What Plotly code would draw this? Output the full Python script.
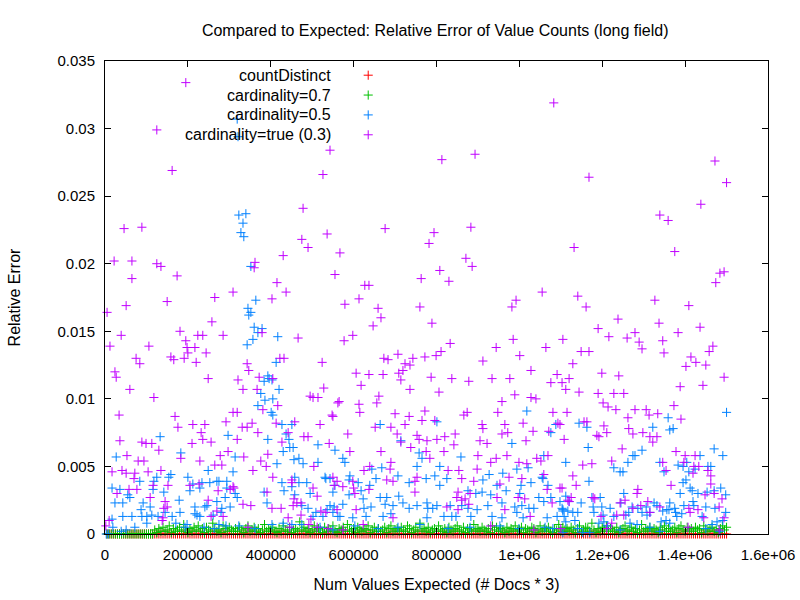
import plotly.graph_objects as go

# ---------------- data ----------------
x_tick_vals = [0, 200000, 400000, 600000, 800000, 1000000, 1200000, 1400000, 1600000]
x_tick_text = ["0", "200000", "400000", "600000", "800000", "1e+06", "1.2e+06", "1.4e+06", "1.6e+06"]
y_tick_vals = [0, 0.005, 0.01, 0.015, 0.02, 0.025, 0.03, 0.035]
y_tick_text = ["0", "0.005", "0.01", "0.015", "0.02", "0.025", "0.03", "0.035"]

series_names = ["countDistinct", "cardinality=0.7", "cardinality=0.5", "cardinality=true (0.3)"]
series_colors = ["#ff0000", "#00c000", "#0080ff", "#c000ff"]

# x grid of expected value counts (shared by countDistinct and cardinality=0.7)
x_expected = list(range(5000, 1500001, 5000))

# countDistinct: exact -> zero error everywhere
count_distinct_err = [0.0] * len(x_expected)

# cardinality=0.7 relative error (units of 1e-4), one per x_expected point
card07_err_e4 = [
    0, 0, 0, 0, 0, 0, 0, 0, 0, 0, 0, 0, 0, 0, 0, 0, 0, 0, 0, 0, 0, 0, 0,
    3, 1, 4, 2, 5, 2, 3, 6, 1, 4, 2, 3, 5, 2, 7, 3, 1, 4, 2, 5,
    3, 6, 2, 4, 1, 5, 3, 2, 8, 4, 2, 3, 1, 6, 4, 2, 5, 3, 2, 4,
    2, 5, 3, 1, 4, 6, 2, 3, 5, 2, 4, 1, 3, 7, 2, 4, 3, 5, 2, 1,
    4, 2, 6, 3, 2, 5, 1, 3, 4, 2, 9, 3, 5, 2, 4, 1, 3, 6, 2, 4,
    3, 1, 5, 2, 4, 3, 6, 2, 1, 4, 3, 5, 2, 7, 3, 2, 4, 1, 5, 3,
    2, 4, 3, 6, 1, 3, 5, 2, 4, 2, 3, 5, 1, 4, 6, 2, 3, 4, 2, 5,
    3, 2, 6, 4, 1, 3, 5, 2, 8, 3, 4, 2, 5, 1, 3, 4, 2, 6, 3, 2,
    4, 1, 5, 3, 2, 4, 6, 3, 2, 5, 1, 4, 3, 2, 7, 3, 4, 2, 5, 3,
    2, 4, 1, 6, 3, 5, 2, 4, 3, 1, 5, 2, 4, 3, 6, 2, 3, 5, 1, 4,
    3, 2, 5, 4, 1, 3, 6, 2, 4, 3, 5, 2, 1, 4, 3, 7, 2, 5, 3, 4,
    2, 5, 3, 1, 4, 6, 2, 3, 5, 4, 2, 8, 3, 1, 4, 2, 5, 3, 6, 2,
    4, 3, 2, 5, 1, 3, 4, 6, 2, 3, 5, 2, 4, 1, 3, 7, 2, 4, 3, 5,
    2, 4, 3, 1, 5, 3, 6, 2, 4, 2, 3, 5, 1, 4, 6, 3, 2, 5, 3, 4,
    2, 5, 3, 4, 1, 6, 3, 2, 4, 5, 2, 3, 1, 4, 6, 3, 5,
]
card07_err = [v * 1e-4 for v in card07_err_e4]

# cardinality=0.5: (expected count, relative error)
card05_points = [
    (319000, 0.0307), (321000, 0.0294), (323000, 0.0236), (340000, 0.0237), (333000, 0.0230),
    (328000, 0.0223), (335000, 0.0220), (352000, 0.0198), (364000, 0.0173), (345000, 0.0167),
    (352000, 0.0164), (347000, 0.0162), (360000, 0.0153), (379000, 0.0152), (369000, 0.0149),
    (357000, 0.0144), (343000, 0.0140), (417000, 0.0146), (413000, 0.0127), (393000, 0.0117),
    (384000, 0.0113), (396000, 0.0115), (420000, 0.0107), (403000, 0.0114), (376000, 0.0104),
    (386000, 0.0099), (405000, 0.0100), (369000, 0.0095), (401000, 0.0090), (405000, 0.0088),
    (427000, 0.0081), (451000, 0.0081), (437000, 0.0074), (297000, 0.0073), (393000, 0.0070),
    (133000, 0.0072), (444000, 0.0070), (514000, 0.0066), (446000, 0.0064), (454000, 0.0064),
    (430000, 0.0061), (555000, 0.0062), (183000, 0.0060), (27000, 0.0057), (314000, 0.0057),
    (468000, 0.0056), (456000, 0.0055), (415000, 0.0052), (514000, 0.0053), (478000, 0.0052),
    (249000, 0.0047), (309000, 0.0046), (125000, 0.0042), (154000, 0.0042), (159000, 0.0044),
    (200000, 0.0042), (458000, 0.0042), (531000, 0.0042), (543000, 0.0041), (84000, 0.0039),
    (118000, 0.0039), (234000, 0.0038), (253000, 0.0038), (270000, 0.0039), (275000, 0.0039),
    (294000, 0.0039), (212000, 0.0037), (229000, 0.0034), (427000, 0.0038), (468000, 0.0038),
    (487000, 0.0038), (533000, 0.0041), (555000, 0.0036), (17000, 0.0034), (36000, 0.0033),
    (116000, 0.0033), (142000, 0.0031), (205000, 0.0032), (294000, 0.0034), (314000, 0.0030),
    (384000, 0.0031), (432000, 0.0032), (451000, 0.0035), (495000, 0.0030), (55000, 0.0029),
    (60000, 0.0027), (290000, 0.0027), (319000, 0.0027), (458000, 0.0029), (24000, 0.0023),
    (43000, 0.0023), (92000, 0.0023), (109000, 0.0020), (179000, 0.0025), (217000, 0.0020),
    (241000, 0.0020), (246000, 0.0021), (270000, 0.0024), (282000, 0.0019), (302000, 0.0020),
    (391000, 0.0023), (475000, 0.0021), (490000, 0.0019), (543000, 0.0021), (87000, 0.0018),
    (145000, 0.0016), (181000, 0.0016), (217000, 0.0015), (261000, 0.0014), (280000, 0.0016),
    (509000, 0.0016), (536000, 0.0018), (550000, 0.0016), (43000, 0.0013), (65000, 0.0013),
    (89000, 0.0013), (101000, 0.0013), (113000, 0.0014), (128000, 0.0013), (162000, 0.0013),
    (222000, 0.0014), (229000, 0.0013), (502000, 0.0013), (526000, 0.0013), (562000, 0.0013),
    (17000, 0.0011), (101000, 0.0008), (171000, 0.0008), (198000, 0.0007), (275000, 0.0007),
    (292000, 0.0006), (323000, 0.0006), (403000, 0.0007), (430000, 0.0008), (451000, 0.0007),
    (475000, 0.0007), (19000, 0.0005), (72000, 0.0005), (39000, 0.0002), (51000, 0.0003),
    (193000, 0.0005), (239000, 0.0005), (263000, 0.0004), (362000, 0.0004), (519000, 0.0005),
    (550000, 0.0003), (3000, 0.0), (8000, 0.0),
    (1018000, 0.0091), (664000, 0.0081), (801000, 0.0083), (1076000, 0.0075), (1088000, 0.0081),
    (714000, 0.0069), (982000, 0.0067), (758000, 0.0060), (574000, 0.0056), (579000, 0.0053),
    (765000, 0.0056), (859000, 0.0057), (753000, 0.0050), (808000, 0.0050), (1059000, 0.0058),
    (1112000, 0.0053), (644000, 0.0048), (668000, 0.0049), (994000, 0.0048), (960000, 0.0045),
    (1021000, 0.0049), (1055000, 0.0042), (591000, 0.0043), (707000, 0.0043), (654000, 0.0041),
    (825000, 0.0041), (796000, 0.0043), (775000, 0.0041), (912000, 0.0040), (927000, 0.0044),
    (611000, 0.0038), (589000, 0.0040), (734000, 0.0038), (808000, 0.0036), (946000, 0.0036),
    (1004000, 0.0036), (1028000, 0.0038), (1057000, 0.0041), (1069000, 0.0036), (639000, 0.0036),
    (618000, 0.0032), (550000, 0.0031), (968000, 0.0032), (876000, 0.0032), (895000, 0.0030),
    (910000, 0.0031), (1001000, 0.0030), (1047000, 0.0027), (664000, 0.0027), (680000, 0.0027),
    (709000, 0.0028), (589000, 0.0029), (623000, 0.0026), (931000, 0.0029), (1076000, 0.0027),
    (1112000, 0.0028), (574000, 0.0022), (676000, 0.0022), (695000, 0.0021), (719000, 0.0023),
    (777000, 0.0023), (801000, 0.0021), (833000, 0.0021), (861000, 0.0021), (924000, 0.0021),
    (958000, 0.0023), (989000, 0.0020), (1006000, 0.0021), (1059000, 0.0024), (553000, 0.0020),
    (625000, 0.0019), (642000, 0.0020), (734000, 0.0019), (753000, 0.0021), (779000, 0.0019),
    (791000, 0.0019), (876000, 0.0019), (898000, 0.0018), (1023000, 0.0019), (1035000, 0.0019),
    (1103000, 0.0019), (567000, 0.0013), (598000, 0.0012), (630000, 0.0013), (671000, 0.0013),
    (690000, 0.0015), (777000, 0.0012), (818000, 0.0013), (837000, 0.0013), (847000, 0.0013),
    (883000, 0.0013), (934000, 0.0013), (958000, 0.0012), (994000, 0.0016), (1009000, 0.0012),
    (1067000, 0.0012), (1091000, 0.0013), (1108000, 0.0013), (1105000, 0.0018), (603000, 0.0006),
    (659000, 0.0004), (707000, 0.0005), (760000, 0.0007), (828000, 0.0004), (881000, 0.0005),
    (953000, 0.0006), (999000, 0.0004), (1062000, 0.0005), (1081000, 0.0004),
    (1500000, 0.0090), (1144000, 0.0082), (1163000, 0.0079), (1322000, 0.0079), (1359000, 0.0086),
    (1363000, 0.0077), (1371000, 0.0078), (1166000, 0.0064), (1274000, 0.0058), (1279000, 0.0058),
    (1296000, 0.0062), (1470000, 0.0063), (1491000, 0.0058), (1262000, 0.0053), (1339000, 0.0053),
    (1383000, 0.0051), (1404000, 0.0053), (1228000, 0.0049), (1243000, 0.0046), (1250000, 0.0046),
    (1349000, 0.0046), (1395000, 0.0050), (1436000, 0.0058), (1455000, 0.0050), (1462000, 0.0050),
    (1409000, 0.0046), (1424000, 0.0048), (1168000, 0.0039), (1402000, 0.0040), (1395000, 0.0038),
    (1388000, 0.0030), (1412000, 0.0034), (1417000, 0.0032), (1431000, 0.0030), (1453000, 0.0031),
    (1470000, 0.0032), (1486000, 0.0034), (1498000, 0.0029), (1252000, 0.0030), (1098000, 0.0024),
    (1120000, 0.0024), (1149000, 0.0023), (1175000, 0.0027), (1195000, 0.0027), (1199000, 0.0020),
    (1219000, 0.0019), (1245000, 0.0023), (1272000, 0.0020), (1286000, 0.0019), (1306000, 0.0020),
    (1325000, 0.0023), (1332000, 0.0021), (1363000, 0.0023), (1356000, 0.0018), (1375000, 0.0019),
    (1397000, 0.0021), (1419000, 0.0024), (1421000, 0.0021), (1450000, 0.0020), (1472000, 0.0019),
    (1498000, 0.0016), (1105000, 0.0017), (1117000, 0.0017), (1129000, 0.0016), (1141000, 0.0016),
    (1178000, 0.0020), (1180000, 0.0016), (1202000, 0.0014), (1228000, 0.0013), (1257000, 0.0014),
    (1264000, 0.0016), (1296000, 0.0016), (1308000, 0.0014), (1315000, 0.0016), (1346000, 0.0017),
    (1361000, 0.0018), (1377000, 0.0016), (1380000, 0.0013), (1392000, 0.0015), (1441000, 0.0013),
    (1477000, 0.0009), (1112000, 0.0009), (1134000, 0.0010), (1192000, 0.0008), (1204000, 0.0009),
    (1213000, 0.0006), (1267000, 0.0008), (1284000, 0.0007), (1315000, 0.0005), (1342000, 0.0009),
    (1354000, 0.0010), (1363000, 0.0008), (1465000, 0.0007), (1491000, 0.0010), (1105000, 0.0001),
    (1141000, 0.0004), (1153000, 0.0001), (1170000, 0.0001), (1243000, 0.0003), (1339000, 0.0002),
    (1450000, 0.0004), (1484000, 0.0002),
]

# cardinality=true (0.3): (expected count, relative error)
card03_points = [
    (195000, 0.0334), (125000, 0.0299), (162000, 0.0269), (543000, 0.0284), (526000, 0.0266),
    (478000, 0.0241), (46000, 0.0226), (89000, 0.0227), (536000, 0.0222), (475000, 0.0218),
    (490000, 0.0212), (1083000, 0.0319), (813000, 0.0277), (893000, 0.0281), (676000, 0.0226),
    (794000, 0.0223), (883000, 0.0227), (1168000, 0.0264), (1472000, 0.0276), (1500000, 0.0260),
    (1438000, 0.0244), (1339000, 0.0236), (1359000, 0.0232),
    (430000, 0.0206), (22000, 0.0202), (65000, 0.0202), (125000, 0.0200), (135000, 0.0198),
    (362000, 0.0201), (360000, 0.0197), (65000, 0.0189), (174000, 0.0191), (555000, 0.0192),
    (415000, 0.0186), (437000, 0.0179), (309000, 0.0179), (265000, 0.0175), (150000, 0.0172),
    (403000, 0.0174), (51000, 0.0169), (5000, 0.0164), (258000, 0.0157), (181000, 0.0150),
    (39000, 0.0147), (224000, 0.0147), (236000, 0.0147), (285000, 0.0147), (379000, 0.0149),
    (466000, 0.0145), (12000, 0.0139), (106000, 0.0139), (195000, 0.0143), (198000, 0.0138),
    (217000, 0.0138), (200000, 0.0134), (244000, 0.0134), (75000, 0.0130), (159000, 0.0131),
    (166000, 0.0129), (191000, 0.0130), (84000, 0.0126), (220000, 0.0127), (343000, 0.0126),
    (422000, 0.0130), (432000, 0.0130), (524000, 0.0127), (24000, 0.0120), (27000, 0.0116),
    (347000, 0.0121), (249000, 0.0115), (321000, 0.0114), (372000, 0.0116), (405000, 0.0115),
    (333000, 0.0107), (367000, 0.0107), (60000, 0.0107), (528000, 0.0108),
    (782000, 0.0215), (567000, 0.0208), (871000, 0.0204), (886000, 0.0198), (808000, 0.0195),
    (763000, 0.0189), (830000, 0.0187), (627000, 0.0184), (637000, 0.0184), (1055000, 0.0179),
    (613000, 0.0174), (579000, 0.0170), (992000, 0.0173), (982000, 0.0168), (659000, 0.0167),
    (760000, 0.0168), (666000, 0.0160), (647000, 0.0154), (789000, 0.0156), (598000, 0.0147),
    (577000, 0.0143), (833000, 0.0141), (985000, 0.0144), (1105000, 0.0144), (944000, 0.0138),
    (1064000, 0.0138), (707000, 0.0133), (1001000, 0.0132), (673000, 0.0130), (683000, 0.0129),
    (743000, 0.0130), (772000, 0.0131), (799000, 0.0132), (811000, 0.0135), (912000, 0.0128),
    (724000, 0.0126), (736000, 0.0125), (719000, 0.0121), (606000, 0.0119), (637000, 0.0118),
    (671000, 0.0118), (709000, 0.0119), (1028000, 0.0121), (1091000, 0.0118), (787000, 0.0116),
    (837000, 0.0115), (934000, 0.0115), (977000, 0.0115), (714000, 0.0114), (878000, 0.0113),
    (1076000, 0.0112), (1103000, 0.0112), (1120000, 0.0115), (618000, 0.0110), (1112000, 0.0107),
    (1132000, 0.0212), (1375000, 0.0209), (1484000, 0.0193), (1494000, 0.0194), (1474000, 0.0186),
    (1141000, 0.0176), (1327000, 0.0173), (1161000, 0.0168), (1409000, 0.0169), (1238000, 0.0159),
    (1190000, 0.0152), (1337000, 0.0156), (1436000, 0.0153), (1216000, 0.0146), (1279000, 0.0149),
    (1260000, 0.0145), (1289000, 0.0142), (1383000, 0.0149), (1346000, 0.0143), (1296000, 0.0137),
    (1149000, 0.0135), (1168000, 0.0135), (1467000, 0.0139), (1458000, 0.0135), (1349000, 0.0134),
    (1414000, 0.0131), (1129000, 0.0126), (1426000, 0.0127), (1402000, 0.0124), (1450000, 0.0125),
    (1199000, 0.0119), (1240000, 0.0117), (1494000, 0.0116), (1443000, 0.0110), (1388000, 0.0109),
    (118000, 0.0101), (495000, 0.0102), (514000, 0.0101), (502000, 0.0101), (562000, 0.0097),
    (34000, 0.0088), (169000, 0.0087), (309000, 0.0090), (319000, 0.0090), (381000, 0.0092),
    (417000, 0.0095), (548000, 0.0088), (176000, 0.0079), (212000, 0.0081), (241000, 0.0081),
    (292000, 0.0083), (232000, 0.0075), (331000, 0.0079), (343000, 0.0079), (355000, 0.0082),
    (413000, 0.0082), (458000, 0.0083), (369000, 0.0075), (519000, 0.0081), (36000, 0.0069),
    (89000, 0.0068), (99000, 0.0067), (113000, 0.0067), (210000, 0.0067), (236000, 0.0070),
    (256000, 0.0068), (319000, 0.0070), (427000, 0.0068), (442000, 0.0075), (480000, 0.0072),
    (490000, 0.0072), (541000, 0.0067), (130000, 0.0062), (297000, 0.0061), (53000, 0.0058),
    (183000, 0.0056), (278000, 0.0058), (335000, 0.0057), (393000, 0.0059), (80000, 0.0054),
    (94000, 0.0054), (229000, 0.0054), (376000, 0.0054), (265000, 0.0051), (282000, 0.0051),
    (389000, 0.0050), (504000, 0.0050), (17000, 0.0046), (41000, 0.0047), (51000, 0.0045),
    (72000, 0.0045), (104000, 0.0046), (135000, 0.0047), (357000, 0.0047), (70000, 0.0041),
    (405000, 0.0042), (451000, 0.0040), (560000, 0.0039), (116000, 0.0036), (152000, 0.0036),
    (205000, 0.0036), (227000, 0.0037), (309000, 0.0035), (451000, 0.0038), (502000, 0.0034),
    (77000, 0.0033), (58000, 0.0033), (29000, 0.0030), (273000, 0.0032), (302000, 0.0033),
    (311000, 0.0034), (391000, 0.0031), (512000, 0.0028), (553000, 0.0036), (109000, 0.0027),
    (145000, 0.0024), (249000, 0.0025), (456000, 0.0026), (463000, 0.0023), (473000, 0.0023),
    (333000, 0.0022), (352000, 0.0021), (403000, 0.0019), (425000, 0.0019), (454000, 0.0021),
    (150000, 0.0020), (142000, 0.0019), (270000, 0.0017), (256000, 0.0013), (140000, 0.0012),
    (473000, 0.0014), (521000, 0.0017), (10000, 0.0010), (138000, 0.0010), (285000, 0.0013),
    (442000, 0.0012), (497000, 0.0011), (533000, 0.0016), (2000, 0.0006), (345000, 0.0005),
    (446000, 0.0005), (492000, 0.0007), (512000, 0.0005), (538000, 0.0004),
    (806000, 0.0105), (736000, 0.0107), (661000, 0.0102), (565000, 0.0098), (613000, 0.0096),
    (656000, 0.0097), (989000, 0.0103), (1028000, 0.0101), (1040000, 0.0100), (958000, 0.0098),
    (615000, 0.0090), (550000, 0.0087), (700000, 0.0089), (734000, 0.0087), (772000, 0.0091),
    (866000, 0.0088), (874000, 0.0090), (948000, 0.0090), (1081000, 0.0090), (1115000, 0.0090),
    (724000, 0.0081), (765000, 0.0084), (796000, 0.0084), (652000, 0.0079), (690000, 0.0079),
    (910000, 0.0081), (912000, 0.0078), (965000, 0.0081), (1009000, 0.0082), (1033000, 0.0076),
    (1071000, 0.0076), (1093000, 0.0082), (1098000, 0.0081), (586000, 0.0074), (705000, 0.0074),
    (753000, 0.0073), (758000, 0.0070), (777000, 0.0069), (801000, 0.0070), (820000, 0.0072),
    (845000, 0.0074), (905000, 0.0069), (922000, 0.0067), (958000, 0.0074), (972000, 0.0075),
    (1016000, 0.0069), (1108000, 0.0070), (714000, 0.0068), (738000, 0.0064), (591000, 0.0061),
    (666000, 0.0061), (775000, 0.0061), (818000, 0.0061), (842000, 0.0066), (970000, 0.0058),
    (784000, 0.0056), (690000, 0.0053), (900000, 0.0058), (931000, 0.0053), (944000, 0.0056),
    (999000, 0.0053), (1018000, 0.0052), (1042000, 0.0056), (1052000, 0.0054), (1069000, 0.0058),
    (625000, 0.0047), (639000, 0.0050), (688000, 0.0048), (828000, 0.0047), (854000, 0.0047),
    (898000, 0.0048), (975000, 0.0042), (1006000, 0.0041), (1059000, 0.0044), (680000, 0.0040),
    (695000, 0.0039), (748000, 0.0039), (753000, 0.0042), (861000, 0.0041), (890000, 0.0039),
    (953000, 0.0037), (550000, 0.0042), (598000, 0.0039), (574000, 0.0035), (600000, 0.0034),
    (637000, 0.0033), (603000, 0.0030), (1098000, 0.0034), (748000, 0.0031), (852000, 0.0031),
    (881000, 0.0030), (1067000, 0.0033), (849000, 0.0027), (861000, 0.0025), (869000, 0.0026),
    (878000, 0.0022), (946000, 0.0027), (997000, 0.0027), (1013000, 0.0026), (1079000, 0.0023),
    (1117000, 0.0025), (825000, 0.0020), (852000, 0.0018), (965000, 0.0018), (560000, 0.0018),
    (1026000, 0.0013), (606000, 0.0018), (695000, 0.0012), (623000, 0.0007), (931000, 0.0006),
    (1035000, 0.0003), (1100000, 0.0004), (574000, 0.0003),
    (1144000, 0.0105), (1190000, 0.0104), (1228000, 0.0104), (1252000, 0.0104), (1202000, 0.0097),
    (1214000, 0.0094), (1233000, 0.0092), (1279000, 0.0092), (1306000, 0.0092), (1313000, 0.0088),
    (1334000, 0.0089), (1373000, 0.0095), (1390000, 0.0085), (1156000, 0.0083), (1163000, 0.0083),
    (1262000, 0.0086), (1204000, 0.0080), (1211000, 0.0075), (1264000, 0.0078), (1298000, 0.0075),
    (1274000, 0.0074), (1187000, 0.0073), (1192000, 0.0072), (1315000, 0.0072), (1332000, 0.0072),
    (1322000, 0.0068), (1248000, 0.0063), (1378000, 0.0061), (1400000, 0.0058), (1424000, 0.0058),
    (1223000, 0.0054), (1175000, 0.0052), (1153000, 0.0051), (1346000, 0.0053), (1397000, 0.0053),
    (1421000, 0.0050), (1433000, 0.0050), (1354000, 0.0047), (1419000, 0.0045), (1455000, 0.0047),
    (1462000, 0.0043), (1129000, 0.0043), (1137000, 0.0036), (1103000, 0.0034), (1366000, 0.0036),
    (1462000, 0.0037), (1286000, 0.0033), (1284000, 0.0030), (1470000, 0.0030), (1125000, 0.0027),
    (1120000, 0.0024), (1178000, 0.0027), (1182000, 0.0026), (1255000, 0.0025), (1243000, 0.0023),
    (1489000, 0.0026), (1310000, 0.0024), (1448000, 0.0029), (1274000, 0.0019), (1293000, 0.0021),
    (1339000, 0.0020), (1409000, 0.0019), (1431000, 0.0018), (1482000, 0.0020), (1197000, 0.0013),
    (1235000, 0.0014), (1252000, 0.0014), (1315000, 0.0016), (1412000, 0.0016), (1445000, 0.0012),
    (1494000, 0.0012), (1223000, 0.0008), (1407000, 0.0005), (1482000, 0.0003), (1211000, 0.0004),
]

# ---------------- figure ----------------
FONT = "Liberation Sans"
MARKER_SIZE = 6.5
fig = go.Figure()

def add_series(xs, ys, color):
    fig.add_trace(go.Scatter(
        x=list(xs), y=list(ys), mode="markers", showlegend=False,
        cliponaxis=False,
        marker=dict(symbol="cross-thin", size=MARKER_SIZE, color=color,
                    line=dict(color=color, width=1)),
    ))

add_series(x_expected, count_distinct_err, series_colors[0])
add_series(x_expected, card07_err, series_colors[1])
add_series([p[0] for p in card05_points], [p[1] for p in card05_points], series_colors[2])
add_series([p[0] for p in card03_points], [p[1] for p in card03_points], series_colors[3])

# legend (gnuplot style: right-aligned text, sample on the right)
legend_y = [0.970, 0.928, 0.886, 0.844]
for name, color, ly in zip(series_names, series_colors, legend_y):
    fig.add_trace(go.Scatter(
        x=[0.397], y=[ly], xaxis="x2", yaxis="y2", mode="markers", showlegend=False,
        cliponaxis=False, hoverinfo="skip",
        marker=dict(symbol="cross-thin", size=MARKER_SIZE, color=color,
                    line=dict(color=color, width=1)),
    ))
    fig.add_annotation(x=0.344, y=ly, xref="paper", yref="paper", text=name,
                       showarrow=False, xanchor="right", yanchor="middle",
                       font=dict(family=FONT, size=16, color="black"))

axis_common = dict(showline=True, linecolor="black", linewidth=1, mirror="allticks",
                   ticks="inside", ticklen=6, tickcolor="black", showgrid=False,
                   zeroline=False, automargin=False,
                   tickfont=dict(family=FONT, size=15, color="black"))

fig.update_layout(
    width=800, height=600,
    margin=dict(l=105, r=32, t=61, b=66),
    paper_bgcolor="white", plot_bgcolor="white",
    title=dict(text="Compared to Expected: Relative Error of Value Counts (long field)",
               x=0.544, xanchor="center", y=0.95, yanchor="middle",
               font=dict(family=FONT, size=16, color="black")),
    xaxis=dict(range=[0, 1600000], tickvals=x_tick_vals, ticktext=x_tick_text,
               ticklabelstandoff=7,
               title=dict(text="Num Values Expected (# Docs * 3)", standoff=16,
                          font=dict(family=FONT, size=16, color="black")),
               **axis_common),
    yaxis=dict(range=[0, 0.035], tickvals=y_tick_vals, ticktext=y_tick_text,
               ticklabelstandoff=6,
               title=dict(text="Relative Error", standoff=32,
                          font=dict(family=FONT, size=16, color="black")),
               **axis_common),
    xaxis2=dict(overlaying="x", range=[0, 1], visible=False),
    yaxis2=dict(overlaying="y", range=[0, 1], visible=False),
    showlegend=False,
)

fig.write_html("out.html", config={"displayModeBar": False},
               post_script="document.body.style.margin='0';")
